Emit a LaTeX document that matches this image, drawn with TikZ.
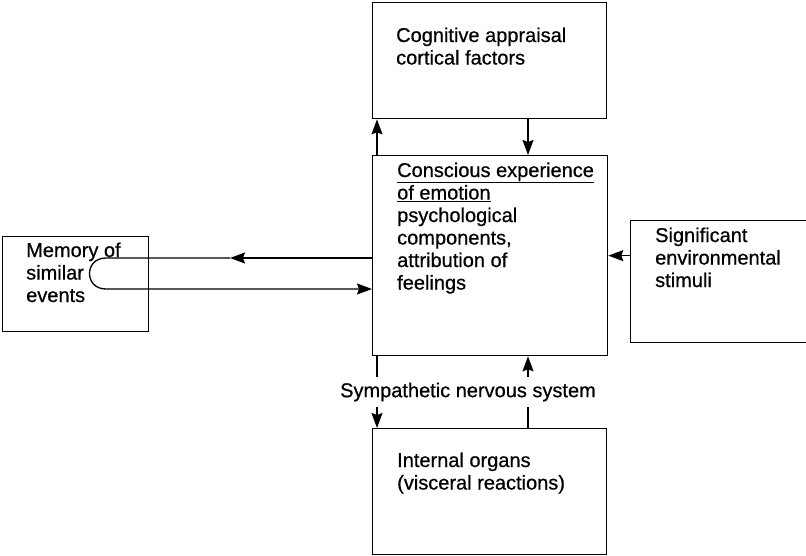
\documentclass[tikz,border=0pt]{standalone}
\usepackage{fontspec}
\setmainfont{Liberation Sans}[AutoFakeBold=0.6]
\usetikzlibrary{arrows.meta,calc}
\tikzset{
  box/.style={draw, line width=1.3pt, rectangle, inner sep=0pt, anchor=north west},
  % anchored at the baseline of the last line
  txt/.style={anchor=base west, inner sep=0pt, align=left,
    font=\fontsize{20}{22.5}\selectfont\bfseries},
  arr/.style={line width=1.3pt, -{Stealth[length=15pt,width=11pt,inset=2pt]}},
}
\begin{document}
\begin{tikzpicture}[x=1pt,y=-1pt]
\useasboundingbox (0,0) rectangle (806,555);
\clip (0,0) rectangle (806,555);

% boxes
\node[box, minimum width=234pt, minimum height=116pt] (cog) at (372,2) {};
\node[box, minimum width=235pt, minimum height=200pt] (ctr) at (372,155) {};
\node[box, minimum width=146pt, minimum height=95pt] (mem) at (2,236) {};
\node[box, minimum width=190pt, minimum height=122pt] (sig) at (630,220) {};
\node[box, minimum width=234pt, minimum height=126pt] (org) at (372,428) {};

% texts
\node[txt] (tcog) at (396,64.5) {Cognitive appraisal\\cortical factors};
\node[txt] (tctr) at (397,289.5) {\underline{Conscious experience}\\\underline{of emotion}\\psychological\\components,\\attribution of\\feelings};
\node[txt] (tmem) at (26,302) {Memory of\\similar\\events};
\node[txt] (tsig) at (655,287) {Significant\\environmental\\stimuli};
\node[txt] (torg) at (397,489.5) {Internal organs\\(visceral reactions)};

% vertical connectors
\draw[arr] ([xshift=5pt]ctr.north west) -- ([xshift=5pt]cog.south west);
\draw[arr] ([xshift=156pt]cog.south west) -- ([xshift=156pt]ctr.north west);
\draw[arr] ([xshift=5pt]ctr.south west) -- ([xshift=5pt]org.north west);
\draw[arr] ([xshift=156pt]org.north west) -- ([xshift=156pt]ctr.south west);

% label across the lower connectors
\node[fill=white, inner xsep=2pt, inner ysep=6pt,
  font=\fontsize{20}{22.5}\selectfont\bfseries] (sns) at (468,392) {Sympathetic nervous system};

% right connector
\draw[arr] (sig.west |- ctr.east) -- (ctr.east);

% loop to and from memory
\coordinate (ltip) at (230,258);
\coordinate (la) at (106,258);
\coordinate (lb) at (106,289);
\draw[arr] (ctr.west |- ltip) -- (ltip);
\draw[arr] (ltip) -- (la) .. controls (84,258) and (84,289) .. (lb) -- (ctr.west |- lb);
\end{tikzpicture}
\end{document}
